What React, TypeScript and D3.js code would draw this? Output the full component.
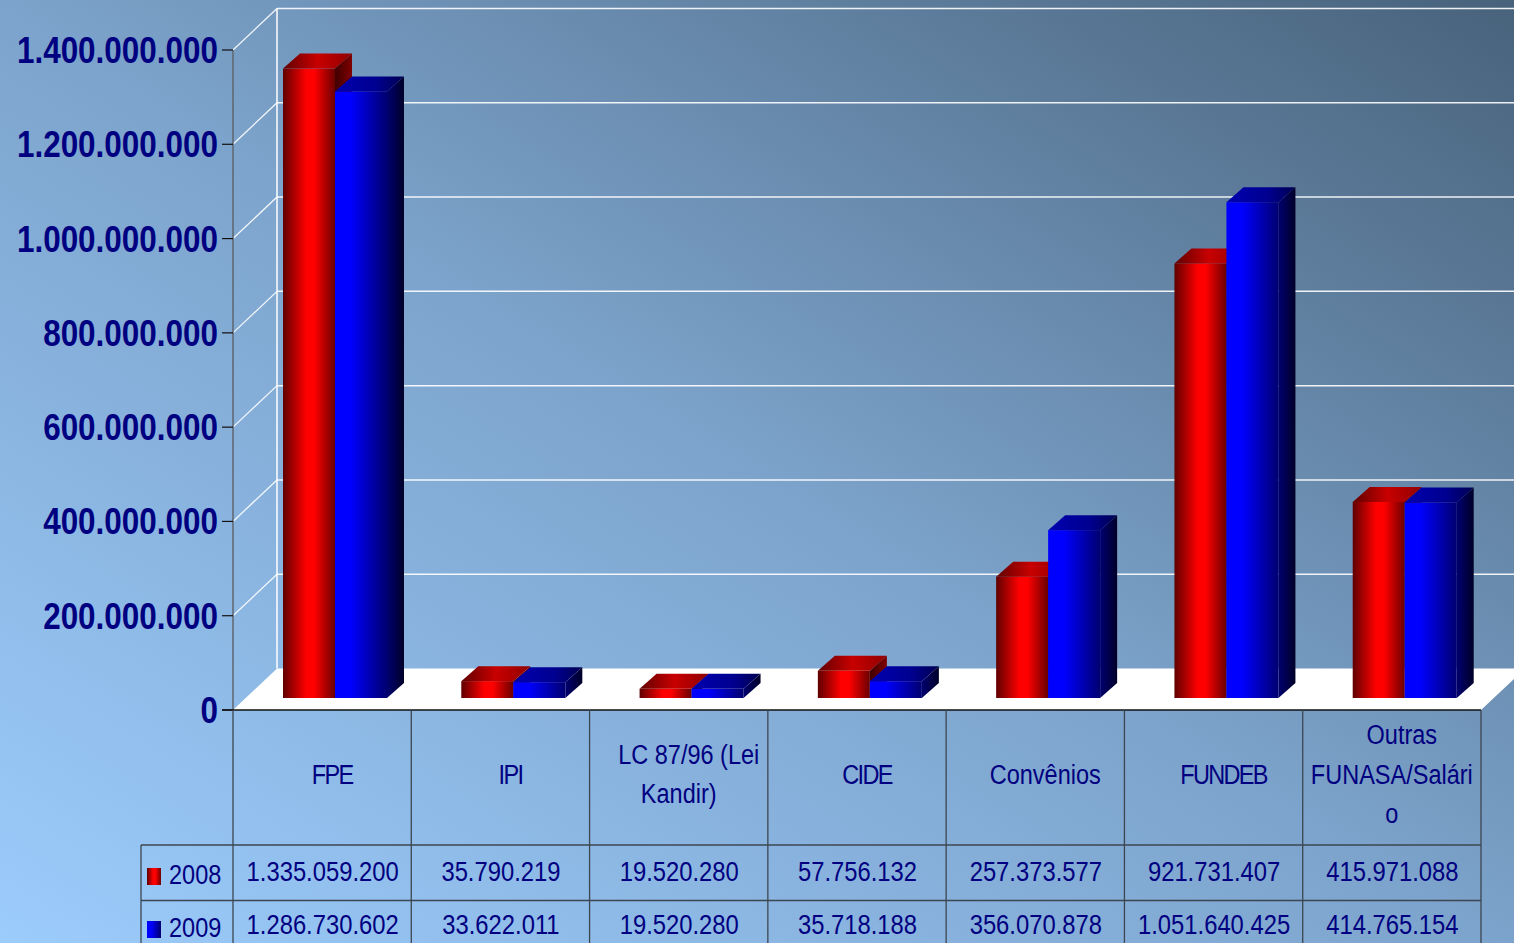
import * as d3 from "d3";

const categories = [
  ["FPE"],
  ["IPI"],
  ["LC 87/96 (Lei", "Kandir)"],
  ["CIDE"],
  ["Convênios"],
  ["FUNDEB"],
  ["Outras", "FUNASA/Salári", "o"],
];
const seriesNames = ["2008", "2009"];
const values2008 = [1335059200, 35790219, 19520280, 57756132, 257373577, 921731407, 415971088];
const values2009 = [1286730602, 33622011, 19520280, 35718188, 356070878, 1051640425, 414765154];
const UNSHIFTED = new Set(["Kandir)", "FUNASA/Salári", "o"]);

const W = 1514;
const H = 943;
const FONT = "'Liberation Sans', Arial, sans-serif";
const NAVY = "#000080";
const LINE = "#3c4650";
const SQUEEZE = 0.84;

// front corner of the plot, wall depth, bar depth
const X0 = 233;
const X1 = 1481;
const Y0 = 710;
const DX = 44;
const DY = 41.5;
const BAR_INSET = 12;
const BAR_DX = 17;
const BAR_DY = 15;

const num = d3.formatLocale({ decimal: ",", thousands: ".", grouping: [3], currency: ["", ""] }).format(",d");

const y = d3.scaleLinear().domain([0, 1400000000]).range([Y0, 50]);
const x = d3.scaleBand<number>().domain(d3.range(categories.length)).range([X0, X1]);
const inner = d3.scaleBand<string>().domain(seriesNames).range([50, 154]);

function Squeezed({ tx, ty, anchor = "middle", size = 28, bold = false, sx = SQUEEZE, spacing = 0, children }: any) {
  return (
    <text
      transform={`translate(${tx},${ty}) scale(${sx},1)`}
      textAnchor={anchor}
      fontFamily={FONT}
      fontSize={size}
      fontWeight={bold ? 700 : 400}
      letterSpacing={spacing}
      fill={NAVY}
    >
      {children}
    </text>
  );
}

function Grad({ id, stops }: { id: string; stops: [number, string][] }) {
  return (
    <linearGradient id={id} x1="0" y1="0" x2="1" y2="0">
      {stops.map(([o, c]) => (
        <stop key={o} offset={o} stopColor={c} />
      ))}
    </linearGradient>
  );
}

function Bar({ left, width, value, s }: { left: number; width: number; value: number; s: string }) {
  const base = Y0 - BAR_INSET;
  const top = base - (Y0 - y(value));
  const right = left + width;
  const poly = (pts: number[][]) => pts.map((p) => p.join(",")).join(" ");
  return (
    <g>
      <rect x={left} y={top} width={width} height={base - top} fill={`url(#front${s})`} />
      <polygon
        points={poly([[left, top], [right, top], [right + BAR_DX, top - BAR_DY], [left + BAR_DX, top - BAR_DY]])}
        fill={`url(#top${s})`}
      />
      <polygon
        points={poly([[right, top], [right + BAR_DX, top - BAR_DY], [right + BAR_DX, base - BAR_DY], [right, base]])}
        fill={`url(#side${s})`}
      />
    </g>
  );
}

export default function App() {
  const ticks = y.ticks(7);
  const band = x.bandwidth();
  return (
    <svg width={W} height={H} style={{ position: "fixed", left: 0, top: 0, display: "block" }}>
      <defs>
        <linearGradient id="bg" x1="0" y1="1" x2="1" y2="0">
          <stop offset="0" stopColor="#9CCCFC" />
          <stop offset="0.5" stopColor="#7CA3CB" />
          <stop offset="1" stopColor="#48627B" />
        </linearGradient>
        <Grad id="front2008" stops={[[0, "#600000"], [0.45, "#ff0000"], [0.6, "#ff0000"], [1, "#6a0000"]]} />
        <Grad id="top2008" stops={[[0, "#600000"], [0.5, "#c80000"], [1, "#900000"]]} />
        <Grad id="side2008" stops={[[0, "#400000"], [1, "#800000"]]} />
        <Grad id="front2009" stops={[[0, "#0000ff"], [0.3, "#0000ff"], [1, "#000070"]]} />
        <Grad id="top2009" stops={[[0, "#0000b0"], [0.6, "#000090"], [1, "#000050"]]} />
        <Grad id="side2009" stops={[[0, "#000070"], [1, "#000028"]]} />
      </defs>
      <rect width={W} height={H} fill="url(#bg)" />

      {/* walls */}
      <polygon
        points={`${X0},${Y0} ${X1},${Y0} ${X1 + DX},${Y0 - DY} ${X0 + DX},${Y0 - DY}`}
        fill="#fff"
      />
      {ticks.map((t) => (
        <g key={t} stroke="#fff" fill="none" strokeOpacity={0.9}>
          {t > 0 && <line x1={X0} x2={X0 + DX} y1={y(t)} y2={y(t) - DY} strokeWidth={1.3} />}
          {t > 0 && <line x1={X0 + DX} x2={W} y1={y(t) - DY} y2={y(t) - DY} strokeWidth={1.5} />}
        </g>
      ))}
      <line x1={X0 + DX} x2={X0 + DX} y1={y(1400000000) - DY} y2={Y0 - DY} stroke="#fff" strokeWidth={1.5} />

      {/* bars */}
      {categories.map((_, i) => (
        <g key={i}>
          <Bar left={x(i)! + inner("2008")!} width={inner.bandwidth()} value={values2008[i]} s="2008" />
          <Bar left={x(i)! + inner("2009")!} width={inner.bandwidth()} value={values2009[i]} s="2009" />
        </g>
      ))}

      {/* value axis */}
      <line x1={X0} x2={X0} y1={y(1400000000)} y2={Y0} stroke="#5f666e" strokeWidth={1.5} />
      {ticks.map((t) => (
        <g key={t}>
          <line x1={222} x2={X0} y1={y(t)} y2={y(t)} stroke="#111" strokeWidth={1.2} />
          <Squeezed tx={218} ty={y(t) + 13} anchor="end" size={37} bold sx={0.85}>
            {num(t)}
          </Squeezed>
        </g>
      ))}

      {/* data table */}
      <g stroke={LINE} strokeWidth={1.3}>
        <line x1={222} x2={X1} y1={Y0} y2={Y0} stroke="#111" />
        <line x1={141} x2={X1} y1={845} y2={845} />
        <line x1={141} x2={X1} y1={900.5} y2={900.5} />
        <line x1={141} x2={141} y1={845} y2={H} />
        {d3.range(categories.length + 1).map((i) => {
          const lx = i === categories.length ? X1 : x(i)!;
          return <line key={i} x1={lx} x2={lx} y1={Y0} y2={H} />;
        })}
      </g>
      {categories.map((lines, i) =>
        lines.map((line, j) => (
          <Squeezed
            key={line}
            tx={x(i)! + band / 2 + (UNSHIFTED.has(line) ? 0 : 10)}
            ty={783.5 + (j - (lines.length - 1) / 2) * 39.5}
            spacing={line === line.toUpperCase() && line.length < 7 ? -2 : 0}
          >
            {line}
          </Squeezed>
        ))
      )}
      {[values2008, values2009].map((vals, r) => (
        <g key={r}>
          <rect x={147} y={868 + r * 53} width={14} height={17} fill={`url(#front${seriesNames[r]})`} />
          <Squeezed tx={169} ty={884 + r * 53} anchor="start">
            {seriesNames[r]}
          </Squeezed>
          {vals.map((v, i) => (
            <Squeezed key={i} tx={x(i)! + band / 2 + 0.5} ty={881 + r * 53} sx={0.85}>
              {num(v)}
            </Squeezed>
          ))}
        </g>
      ))}
    </svg>
  );
}
